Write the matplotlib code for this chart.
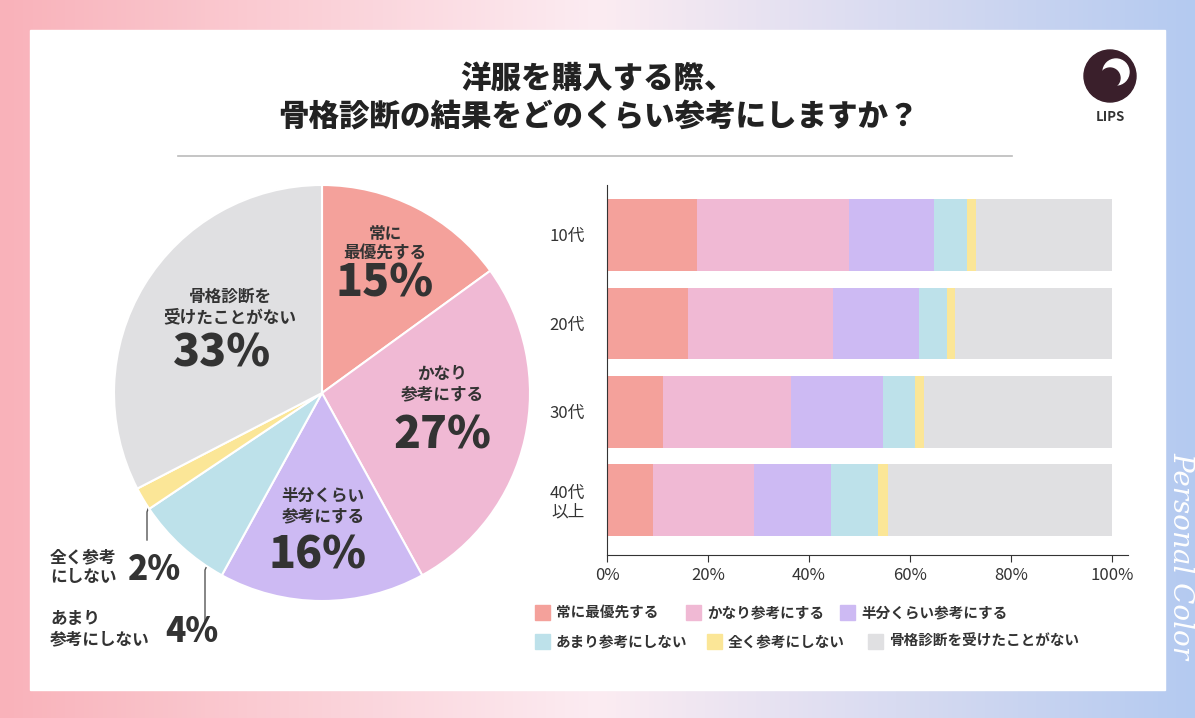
import numpy as np
import matplotlib.pyplot as plt
from matplotlib.patches import Rectangle, Ellipse
from matplotlib.lines import Line2D

plt.rcParams['font.family'] = ['Noto Sans CJK JP', 'DejaVu Sans']

W, H = 1195, 718

# data
colors = ['#F4A19B', '#F0B9D4', '#CDBAF3', '#BDE1EA', '#FBE697', '#E0E0E2']
categories = ['常に最優先する', 'かなり参考にする', '半分くらい参考にする',
              'あまり参考にしない', '全く参考にしない', '骨格診断を受けたことがない']
pie_values = [15, 27, 16, 7.6, 1.8, 32.6]
pie_labels = ['15%', '27%', '16%', '4%', '2%', '33%']
ages = ['10代', '20代', '30代', '40代\n以上']
bar_values = np.array([
    [17.8, 30.1, 16.8, 6.7, 1.6, 27.0],
    [16.0, 28.7, 17.2, 5.5, 1.6, 31.0],
    [11.1, 25.3, 18.2, 6.5, 1.6, 37.3],
    [9.1, 20.0, 15.2, 9.3, 2.0, 44.4],
])

def fx(x):
    return x / W

def fy(y):
    return 1 - y / H

def circ(x, y, r, c, z):
    # circle given in pixels
    return Ellipse((fx(x), fy(y)), 2 * r / W, 2 * r / H, color=c, zorder=z)

fig = plt.figure(figsize=(W / 100, H / 100), dpi=100)

# background gradient
bg = fig.add_axes([0, 0, 1, 1])
grad = np.linspace(0, 1, 256)
c1 = np.array([249, 178, 186]) / 255
c2 = np.array([252, 236, 242]) / 255
c3 = np.array([180, 202, 240]) / 255
img = np.zeros((2, 256, 3))
for i, t in enumerate(grad):
    img[:, i] = c1 + (c2 - c1) * t * 2 if t < 0.5 else c2 + (c3 - c2) * (t - 0.5) * 2
bg.imshow(img, aspect='auto', extent=[0, 1, 0, 1])
bg.set_xlim(0, 1)
bg.set_ylim(0, 1)
bg.axis('off')
bg.add_patch(Rectangle((fx(30), fy(690)), fx(1165) - fx(30), fy(30) - fy(690),
                       color='white', zorder=2))
bg.add_line(Line2D([fx(178), fx(1012)], [fy(156), fy(156)], color='#BBBBBB', lw=1.2, zorder=3))
# "Personal Color"
fig.text(fx(1181), fy(555), 'Personal Color', rotation=-90, color='white', fontsize=20,
         fontstyle='italic', family='DejaVu Serif', ha='center', va='center')
# logo
bg.add_patch(circ(1110, 76, 26, '#3A1F2B', 3))
bg.add_patch(circ(1116, 72, 13, 'white', 4))
bg.add_patch(circ(1110, 78, 10, '#3A1F2B', 5))
fig.text(fx(1110), fy(117), 'LIPS', ha='center', va='center', fontsize=9.5, weight='bold', color='#333333')

# title
fig.text(fx(598), fy(78), '洋服を購入する際、', ha='center', va='center', fontsize=22, weight='heavy', color='#222222')
fig.text(fx(598), fy(116), '骨格診断の結果をどのくらい参考にしますか？', ha='center', va='center',
         fontsize=22, weight='heavy', color='#222222')

# pie
pax = fig.add_axes([fx(114), fy(601), 416 / W, 416 / H])
pax.pie(pie_values, colors=colors, startangle=90, counterclock=False,
        wedgeprops=dict(edgecolor='white', linewidth=1.5))
pax.set_xlim(-1, 1)
pax.set_ylim(-1, 1)

tc = '#333333'
def lab(x, y, s, size=12):
    fig.text(fx(x), fy(y), s, ha='center', va='center', fontsize=size,
             weight='heavy' if size > 20 else 'bold', color=tc, linespacing=1.15)

lab(385, 244, '常に\n最優先する')
lab(385, 283, pie_labels[0], 32)
lab(442, 384, 'かなり\n参考にする')
lab(442, 435, pie_labels[1], 32)
lab(323, 506, '半分くらい\n参考にする')
lab(318, 555, pie_labels[2], 32)
lab(230, 307, '骨格診断を\n受けたことがない')
lab(222, 353, pie_labels[5], 32)

fig.text(fx(50), fy(567), '全く参考\nにしない', ha='left', va='center', fontsize=12, weight='bold',
         color=tc, linespacing=1.15)
fig.text(fx(128), fy(570), pie_labels[4], ha='left', va='center', fontsize=24, weight='heavy', color=tc)
fig.text(fx(50), fy(629), 'あまり\n参考にしない', ha='left', va='center', fontsize=12, weight='bold',
         color=tc, linespacing=1.15)
fig.text(fx(165), fy(632), pie_labels[3], ha='left', va='center', fontsize=24, weight='heavy', color=tc)
bg.add_line(Line2D([fx(153), fx(147), fx(147)], [fy(494), fy(512), fy(540)], color='#555555', lw=1, zorder=5))
bg.add_line(Line2D([fx(214), fx(205), fx(205)], [fy(550), fy(570), fy(622)], color='#555555', lw=1, zorder=5))

# stacked bars
bax = fig.add_axes([fx(607), fy(555), 521 / W, 370 / H])
y = np.arange(len(ages))
left = np.zeros(len(ages))
for j in range(len(categories)):
    bax.barh(y, bar_values[:, j], left=left, height=0.81, color=colors[j])
    left += bar_values[:, j]
bax.set_xlim(0, 103.2)
bax.set_ylim(3.62, -0.565)
bax.set_xticks([0, 20, 40, 60, 80, 100])
bax.set_xticklabels(['0%', '20%', '40%', '60%', '80%', '100%'])
bax.set_yticks(y)
bax.set_yticklabels(ages, linespacing=1.1)
bax.tick_params(labelsize=12, colors='#333333', length=5)
bax.tick_params(axis='y', length=0, pad=16)
for s in ['top', 'right']:
    bax.spines[s].set_visible(False)
for s in ['left', 'bottom']:
    bax.spines[s].set_color('#333333')

# legend
items = [(535, 612), (686, 612), (840, 612), (535, 641), (707, 641), (868, 641)]
for (x0, y0), c, name in zip(items, colors, categories):
    bg.add_patch(Rectangle((fx(x0), fy(y0 + 8)), 15 / W, 15 / H, color=c, zorder=5))
    fig.text(fx(x0 + 21), fy(y0), name, ha='left', va='center', fontsize=10.5, weight='bold', color=tc)

fig.savefig('out.png', dpi=100)
